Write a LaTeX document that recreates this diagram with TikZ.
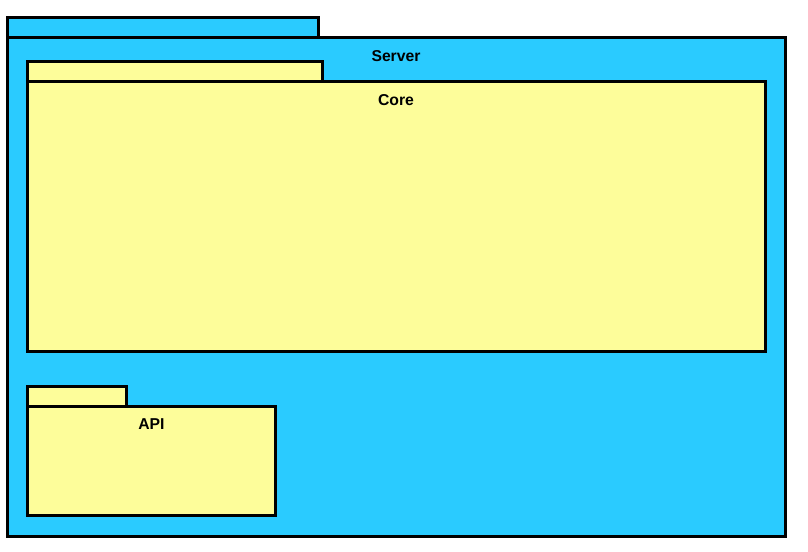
\documentclass[tikz,border=0pt]{standalone}
\usepackage{fontspec}
\setmainfont{Liberation Sans}
\definecolor{srvblue}{HTML}{2ACBFF}
\definecolor{pkgyellow}{HTML}{FDFD9A}
\begin{document}
\begin{tikzpicture}[x=0.75pt,y=-0.75pt,
  pkg/.style={draw=black,line width=2.25pt,rectangle,inner sep=0pt,outer sep=0pt,anchor=north west},
  blue pkg/.style={pkg,fill=srvblue},
  yellow pkg/.style={pkg,fill=pkgyellow},
  lbl/.style={font=\fontsize{11.8pt}{13pt}\selectfont\bfseries,anchor=base,inner sep=0pt}]
\useasboundingbox (0,0) rectangle (808,551);
% Server
\node[blue pkg,minimum width=311*0.75pt,minimum height=20*0.75pt] (servertab) at (7.5,17.5) {};
\node[blue pkg,minimum width=778*0.75pt,minimum height=499*0.75pt] (server) at (7.5,37.5) {};
\node[lbl] (serverlbl) at (396,61) {Server};
% Core
\node[yellow pkg,minimum width=295*0.75pt,minimum height=20*0.75pt] (coretab) at (27.5,61.5) {};
\node[yellow pkg,minimum width=738*0.75pt,minimum height=270*0.75pt] (core) at (27.5,81.5) {};
\node[lbl] (corelbl) at (396,105) {Core};
% API
\node[yellow pkg,minimum width=99*0.75pt,minimum height=20*0.75pt] (apitab) at (27.5,386.5) {};
\node[yellow pkg,minimum width=248*0.75pt,minimum height=109*0.75pt] (api) at (27.5,406.5) {};
\node[lbl] (apilbl) at (151.5,429.5) {API};
\end{tikzpicture}
\end{document}
